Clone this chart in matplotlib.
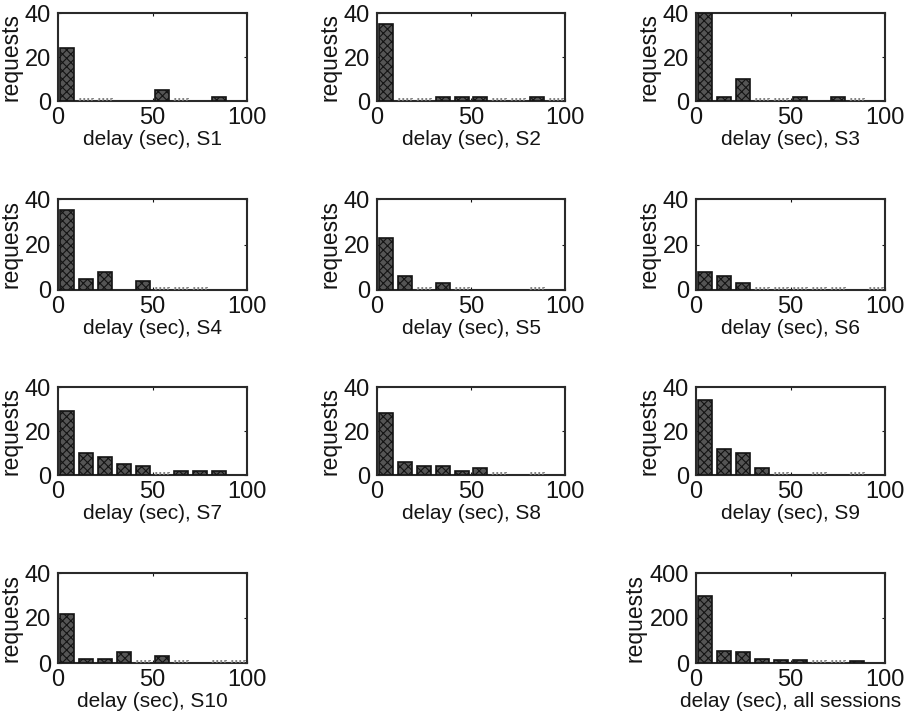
import numpy as np
import matplotlib
matplotlib.use('Agg')
import matplotlib.pyplot as plt

# bin centres (sec) and request counts; nan = no bar drawn, 0 = flat bar
bins = [5, 15, 25, 35, 45, 55, 65, 75, 85, 95]
nan = np.nan
s1 = [24, 0, 0, nan, nan, 5, 0, nan, 2, nan]
s2 = [35, 0, 0, 2, 2, 2, 0, 0, 2, 0]
s3 = [40, 2, 10, 0, 0, 2, nan, 2, 0, nan]
s4 = [35, 5, 8, nan, 4, 0, 0, 0, nan, nan]
s5 = [23, 6, 0, 3, 0, nan, nan, nan, 0, nan]
s6 = [8, 6, 3, 0, 0, 0, 0, 0, nan, 0]
s7 = [29, 10, 8, 5, 4, 0, 2, 2, 2, nan]
s8 = [28, 6, 4, 4, 2, 3, 0, nan, 0, nan]
s9 = [34, 12, 10, 3, 0, nan, 0, nan, 0, nan]
s10 = [22, 2, 2, 5, 0, 3, 0, nan, 0, 0]
s_all = [300, 55, 50, 20, 15, 15, 0, 0, 10, nan]

panels = [
    (s1, 'delay (sec), S1', 40),
    (s2, 'delay (sec), S2', 40),
    (s3, 'delay (sec), S3', 40),
    (s4, 'delay (sec), S4', 40),
    (s5, 'delay (sec), S5', 40),
    (s6, 'delay (sec), S6', 40),
    (s7, 'delay (sec), S7', 40),
    (s8, 'delay (sec), S8', 40),
    (s9, 'delay (sec), S9', 40),
    (s10, 'delay (sec), S10', 40),
    (s_all, 'delay (sec), all sessions', 400),
]

plt.rcParams['font.family'] = ['Liberation Sans', 'DejaVu Sans']
plt.rcParams['hatch.color'] = '#1e1e1e'
plt.rcParams['hatch.linewidth'] = 0.8
W, H = 918, 723
fig = plt.figure(figsize=(W / 100, H / 100), dpi=100)

col_x = [(58, 247), (377, 565), (696, 885)]
row_y = [(13, 101), (199, 290), (387, 475), (573, 663)]
slots = [(0, 0), (0, 1), (0, 2), (1, 0), (1, 1), (1, 2),
         (2, 0), (2, 1), (2, 2), (3, 0), (3, 2)]

ink = '#141414'
for (vals, label, ymax), (r, c) in zip(panels, slots):
    x0, x1 = col_x[c]
    y0, y1 = row_y[r]
    ax = fig.add_axes([x0 / W, 1 - y1 / H, (x1 - x0) / W, (y1 - y0) / H])
    vals = np.array(vals, dtype=float)
    b = np.array(bins, dtype=float)
    pos = ~np.isnan(vals) & (vals > 0)
    zer = ~np.isnan(vals) & (vals == 0)
    ax.bar(b[pos], np.minimum(vals[pos], ymax), width=7.4, color='#555555',
           edgecolor=ink, linewidth=1.2, hatch='xxxx', zorder=3)
    ax.bar(b[zer], np.full(zer.sum(), ymax * 0.025), width=7.4, color='none',
           edgecolor='#777777', linewidth=1.3, linestyle=(0, (1, 1.2)),
           zorder=3)
    ax.set_xlim(0, 100)
    ax.set_ylim(0, ymax)
    ax.set_xticks([0, 50, 100])
    ax.set_yticks([0, ymax / 2, ymax])
    ax.set_yticklabels([str(int(v)) for v in [0, ymax / 2, ymax]])
    ax.tick_params(direction='in', length=2, labelsize=17, colors=ink,
                   top=True, right=True)
    ax.tick_params(axis='y', pad=5)
    ax.tick_params(axis='x', pad=4)
    for sp in ax.spines.values():
        sp.set_linewidth(1.5)
        sp.set_color('#2a2a2a')
    ax.set_xlabel(label, fontsize=15, color=ink, labelpad=1)
    ax.set_ylabel('requests', fontsize=16.5, color=ink, labelpad=2)

fig.savefig('out.png', dpi=100)
